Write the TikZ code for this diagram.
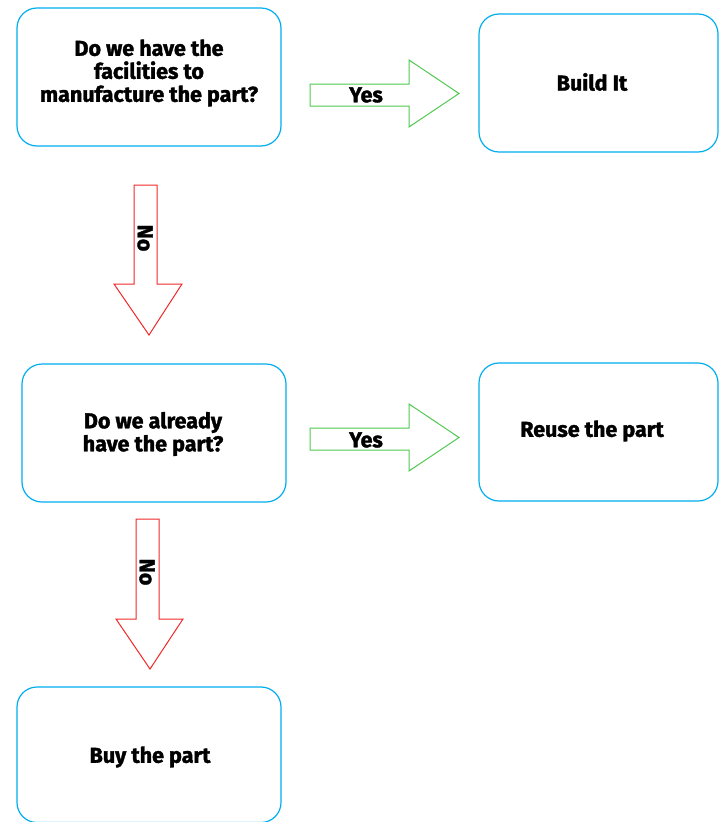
\documentclass[tikz,border=0pt]{standalone}
\usepackage{fontspec}
\setmainfont{Fira Sans}[BoldFeatures={FakeBold=1.6}]
\definecolor{B1}{RGB}{0,174,239}
\definecolor{G1}{RGB}{80,200,80}
\definecolor{R1}{RGB}{240,40,40}

\begin{document}
\begin{tikzpicture}[x=1pt, y=-1pt,
    box/.style={B1, line width=1.2pt, rounded corners=20pt},
    lbl/.style={font=\fontsize{21.5}{23}\selectfont\bfseries, align=center, text=black},
    yesarr/.style={G1, line width=1pt},
    noarr/.style={R1, line width=1pt}]
      \useasboundingbox (0,0) rectangle (723,822);
      % boxes
      \draw[box] (17, 8) rectangle (281, 146);
      \draw[box] (479, 14) rectangle (718, 152);
      \draw[box] (22, 364) rectangle (286, 502);
      \draw[box] (479, 363) rectangle (718, 501);
      \draw[box] (17, 687) rectangle (281, 822.5);
      \node[lbl] (q1) at (149, 73) {Do we have the\\facilities to\\manufacture the part?};
      \node[lbl] (build) at (592, 82) {Build It};
      \node[lbl] (q2) at (153, 434) {Do we already\\have the part?};
      \node[lbl] (reuse) at (592, 431) {Reuse the part};
      \node[lbl] (buy) at (150, 757) {Buy the part};
      % yes arrows
      \draw[yesarr] (310, 84)--(409, 84)--(409, 60)--(459, 93.5)--(409, 127)--(409, 106)--(310, 106)--cycle;
      \node[lbl] (yes1) at (366, 95) {Yes};
      \draw[yesarr] (310, 428)--(409, 428)--(409, 404)--(459, 437.5)--(409, 471)--(409, 450)--(310, 450)--cycle;
      \node[lbl] (yes2) at (366, 440) {Yes};
      % no arrows
      \draw[noarr] (134, 185)--(157, 185)--(157, 284)--(182, 284)--(149, 335)--(114, 284)--(134, 284)--cycle;
      \node[lbl, rotate=-90] (no1) at (145, 238) {No};
      \draw[noarr] (136, 519)--(159, 519)--(159, 619)--(183, 619)--(150, 669)--(116, 619)--(136, 619)--cycle;
      \node[lbl, rotate=-90] (no2) at (147, 572) {No};
\end{tikzpicture}
\end{document}
